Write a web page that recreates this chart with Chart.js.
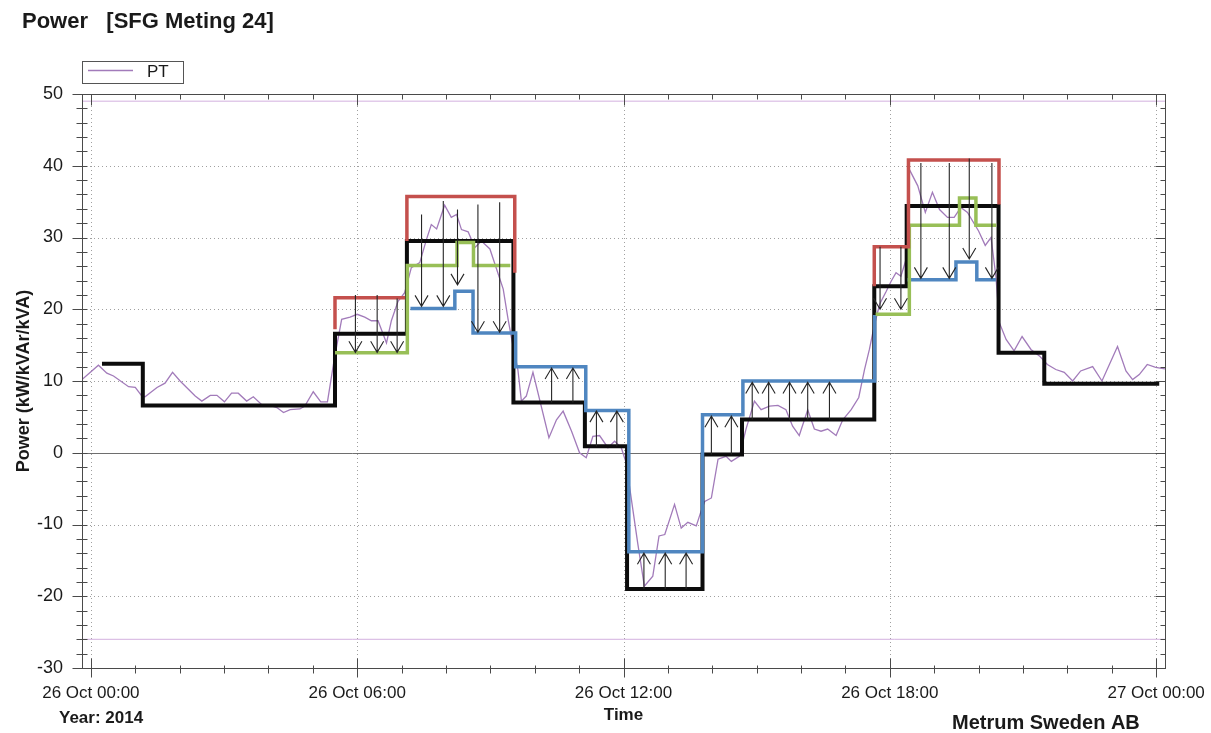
<!DOCTYPE html>
<html>
<head>
<meta charset="utf-8">
<title>Power [SFG Meting 24]</title>
<script src="https://cdn.jsdelivr.net/npm/chart.js@4.4.1/dist/chart.umd.min.js"></script>
<style>
  body { margin: 0; background: #fff; }
  #powerChart { display: block; }
</style>
</head>
<body>
<canvas id="powerChart" width="1211" height="733"></canvas>
<script>
// all x values are hours since 26 Oct 2014 00:00

// PT measurement (kW)
const ptHours = [
  -0.2, 0.17, 0.36, 0.51, 0.85, 1.0, 1.15, 1.22, 1.49, 1.67, 1.84, 2.01, 2.35, 2.5, 2.69, 2.84,
  3.01, 3.17, 3.32, 3.51, 3.66, 3.85, 4.04, 4.19, 4.34, 4.49, 4.71, 4.82, 5.01, 5.18, 5.33, 5.48,
  5.65, 5.84, 6.0, 6.17, 6.32, 6.47, 6.66, 6.77, 6.92, 7.07, 7.22, 7.41, 7.56, 7.67, 7.79, 7.97,
  8.12, 8.24, 8.35, 8.5, 8.65, 8.8, 8.99, 9.14, 9.29, 9.4, 9.51, 9.62, 9.7, 9.81, 9.96,
  10.32, 10.49, 10.64, 10.83, 11.01, 11.16, 11.31, 11.46, 11.65, 11.8, 11.95, 12.06, 12.21, 12.32,
  12.47, 12.66, 12.8, 12.93, 13.15, 13.3, 13.45, 13.64, 13.75, 13.83, 13.98, 14.13, 14.31, 14.43, 14.61,
  14.76, 14.95, 15.1, 15.29, 15.48, 15.66, 15.81, 15.96, 16.15, 16.3, 16.45, 16.6, 16.79, 16.94,
  17.13, 17.3, 17.43, 17.54, 17.65, 17.77, 17.92, 18.03, 18.14, 18.25, 18.37,
  18.44, 18.63, 18.8, 18.96, 19.12, 19.3, 19.45, 19.6, 19.75, 20.0, 20.15, 20.28, 20.39, 20.47,
  20.62, 20.8, 20.98, 21.18, 21.37, 21.55, 21.74, 21.93, 22.12, 22.3, 22.57, 22.78, 23.13, 23.32,
  23.47, 23.62, 23.8, 23.99, 24.2
];
const ptValues = [
  10.2, 12.2, 11.1, 10.7, 9.2, 9.1, 7.9, 7.8, 9.1, 9.7, 11.2, 10.0, 7.9, 7.2, 8.0, 8.0,
  7.1, 8.3, 8.3, 7.2, 7.8, 6.7, 6.6, 6.3, 5.6, 6.0, 6.1, 6.5, 8.5, 7.1, 7.1, 12.9,
  18.6, 18.9, 19.3, 18.9, 18.4, 18.4, 15.3, 18.4, 21.1, 22.3, 25.8, 26.5, 29.7, 31.8, 31.2, 34.5,
  32.8, 33.2, 31.1, 30.8, 28.6, 29.5, 28.4, 25.6, 22.8, 18.6, 14.9, 11.6, 7.2, 7.9, 11.2,
  2.1, 4.6, 5.8, 3.0, 0.0, -0.7, 2.3, 2.4, 0.7, 1.6, 0.7, -1.4, -7.9, -12.6,
  -18.6, -17.2, -11.6, -11.4, -7.2, -10.5, -9.7, -10.2, -8.1, -6.8, -6.3, -0.9, -0.5, -1.2, -0.5,
  3.3, 7.2, 6.0, 6.5, 6.6, 6.0, 3.7, 2.4, 6.0, 3.3, 3.0, 3.3, 2.4, 4.6,
  6.0, 7.7, 11.6, 14.4, 17.7, 20.7, 22.5, 23.9, 25.1, 24.6, 27.0,
  39.5, 37.2, 33.5, 36.3, 33.9, 32.8, 32.8, 34.2, 33.5, 30.9, 28.9, 30.0, 24.6, 18.1,
  15.8, 14.2, 16.2, 14.4, 13.5, 12.3, 11.6, 11.2, 10.0, 11.4, 12.0, 10.0, 14.8, 11.4,
  10.2, 10.9, 12.3, 11.9, 11.7
];

// step levels: each point = hour where the level changes, new level (null = break)
const blackHours = [0.25, 1.17, 5.5, 7.12, 9.52, 11.13, 12.08, 13.78, 14.67, 17.65, 18.38, 20.45, 21.48, 24.07];
const blackLevels = [12.4, 6.6, 16.6, 29.5, 7.0, 0.9, -19.0, -0.25, 4.65, 23.2, 34.4, 13.95, 9.6, 9.6];

const redHours = [5.5, 5.5, 7.08, null, 7.12, 7.12, 9.55, null, 17.65, 17.65, 18.42, 20.46];
const redLevels = [17.2, 21.6, 21.6, null, 29.5, 35.7, 25.1, null, 23.2, 28.7, 40.8, 34.6];

const greenHours = [5.5, 7.13, 8.25, 8.62, 9.45, null, 17.68, 18.44, 19.57, 19.94, 20.4];
const greenLevels = [13.95, 26.1, 29.3, 26.1, 26.1, null, 19.3, 31.7, 35.5, 31.7, 31.7];

const blueHours = [7.2, 8.2, 8.61, 9.57, 11.15, 12.12, 13.78, 14.69, 17.66, null, 18.4, 19.49, 19.96, 20.39];
const blueLevels = [20.1, 22.5, 16.7, 12.0, 5.9, -13.8, 5.3, 10.0, 19.2, null, 24.1, 26.6, 24.1, 24.1];

// annotation arrows: hour, start level, tip level
const arrowHours = [5.96, 6.45, 6.9, 7.45, 7.94, 8.26, 8.72, 9.21, 10.38, 10.86, 11.39, 11.85,
  12.46, 12.94, 13.41, 13.98, 14.43, 14.9, 15.27, 15.74, 16.15, 16.64, 17.78, 18.25, 18.7, 19.34, 19.79, 20.3];
const arrowFrom = [22.0, 22.0, 21.5, 33.2, 35.1, 33.9, 34.6, 34.9, 7.0, 7.0, 0.9, 0.9,
  -19.0, -19.0, -19.0, -0.25, -0.25, 4.65, 4.65, 4.65, 4.65, 4.65, 28.7, 28.7, 40.4, 40.4, 41.0, 40.4];
const arrowTo = [14.0, 14.0, 14.0, 20.4, 20.4, 23.4, 16.8, 16.8, 11.8, 11.8, 5.8, 5.8,
  -14.0, -14.0, -14.0, 5.1, 5.1, 9.8, 9.8, 9.8, 9.8, 9.8, 20.0, 20.0, 24.3, 24.3, 27.0, 24.3];

// max / min reference lines
const limitHigh = 49;
const limitLow = -26;

// axes
const xMin = -0.2, xMax = 24.2;
const xTickHours = [0, 6, 12, 18, 24];
const xTickLabels = ['26 Oct 00:00', '26 Oct 06:00', '26 Oct 12:00', '26 Oct 18:00', '27 Oct 00:00'];
const yMin = -30, yMax = 50;
const yTicks = [-30, -20, -10, 0, 10, 20, 30, 40, 50];

const FONT = "'Liberation Sans', Arial, sans-serif";
const TXT = '#1a1a1a';

function toPoints(xs, ys) {
  return xs.map((h, i) => ({ x: h, y: ys[i] }));
}

function line(ctx, x1, y1, x2, y2) {
  ctx.beginPath();
  ctx.moveTo(x1, y1);
  ctx.lineTo(x2, y2);
  ctx.stroke();
}

// grid, frame, tick marks, arrows and the loose texts
const decorations = {
  id: 'decorations',
  beforeDatasetsDraw(chart) {
    const { ctx, chartArea: a, scales: { x, y } } = chart;
    ctx.save();
    ctx.lineWidth = 1;
    ctx.strokeStyle = '#a0a0a0';
    ctx.setLineDash([1, 3]);
    xTickHours.forEach(h => {
      const px = Math.round(x.getPixelForValue(h)) + 0.5;
      line(ctx, px, a.top, px, a.bottom);
    });
    yTicks.forEach(v => {
      if (v === 0 || v === yMin || v === yMax) return;
      const py = Math.round(y.getPixelForValue(v)) + 0.5;
      line(ctx, a.left, py, a.right, py);
    });
    ctx.setLineDash([]);
    ctx.strokeStyle = '#6e6e6e';
    const py0 = Math.round(y.getPixelForValue(0)) + 0.5;
    line(ctx, a.left, py0, a.right, py0);
    ctx.restore();
  },
  afterDatasetsDraw(chart) {
    const { ctx, chartArea: a, scales: { x, y } } = chart;
    ctx.save();

    // arrows
    ctx.strokeStyle = '#262626';
    ctx.lineWidth = 1.1;
    arrowHours.forEach((h, i) => {
      const px = x.getPixelForValue(h);
      const y0 = y.getPixelForValue(arrowFrom[i]);
      const y1 = y.getPixelForValue(arrowTo[i]);
      const dir = y1 > y0 ? 1 : -1;
      ctx.beginPath();
      ctx.moveTo(px, y0);
      ctx.lineTo(px, y1);
      ctx.moveTo(px - 6.5, y1 - dir * 11);
      ctx.lineTo(px, y1);
      ctx.lineTo(px + 6.5, y1 - dir * 11);
      ctx.stroke();
    });

    // frame
    ctx.strokeStyle = '#4a4a4a';
    ctx.lineWidth = 1;
    const L = Math.round(a.left) + 0.5, R = Math.round(a.right) + 0.5;
    const T = Math.round(a.top) + 0.5, B = Math.round(a.bottom) + 0.5;
    ctx.strokeRect(L, T, R - L, B - T);

    // tick marks, hourly on x and every 2 kW on y
    for (let h = 0; h <= 24; h++) {
      const px = Math.round(x.getPixelForValue(h)) + 0.5;
      const major = h % 6 === 0;
      line(ctx, px, B - (major ? 10 : 3), px, B + (major ? 9 : 5));
      line(ctx, px, T, px, T + (major ? 11 : 5));
    }
    for (let v = yMin; v <= yMax; v += 2) {
      const py = Math.round(y.getPixelForValue(v)) + 0.5;
      const major = v % 10 === 0;
      line(ctx, L - (major ? 10 : 6), py, L + 5, py);
      line(ctx, R - (major ? 10 : 5), py, R, py);
    }
    ctx.restore();
  },
  afterDraw(chart) {
    const { ctx } = chart;
    const pt = chart.data.datasets.find(d => d.label === 'PT');
    ctx.save();
    ctx.fillStyle = TXT;
    ctx.textBaseline = 'alphabetic';
    ctx.font = 'bold 22px ' + FONT;
    ctx.fillText('Power   [SFG Meting 24]', 22, 28);

    // legend
    ctx.strokeStyle = '#555';
    ctx.lineWidth = 1;
    ctx.strokeRect(82.5, 61.5, 101, 22);
    ctx.strokeStyle = pt.borderColor;
    ctx.lineWidth = 1.5;
    line(ctx, 88, 70.5, 133, 70.5);
    ctx.font = '17px ' + FONT;
    ctx.fillText('PT', 147, 77);

    ctx.font = 'bold 17px ' + FONT;
    ctx.fillText('Year: 2014', 59, 723);
    ctx.font = 'bold 20px ' + FONT;
    ctx.fillText('Metrum Sweden AB', 952, 729);
    ctx.restore();
  }
};

const stepStyle = (color, width) => ({
  borderColor: color,
  borderWidth: width,
  stepped: true,
  pointRadius: 0,
  spanGaps: false,
  fill: false
});

new Chart(document.getElementById('powerChart'), {
  type: 'line',
  data: {
    datasets: [
      { label: 'red', data: toPoints(redHours, redLevels), ...stepStyle('#c4504d', 3.5) },
      { label: 'green', data: toPoints(greenHours, greenLevels), ...stepStyle('#98bf57', 3.5) },
      { label: 'blue', data: toPoints(blueHours, blueLevels), ...stepStyle('#4f86c0', 3.5) },
      { label: 'black', data: toPoints(blackHours, blackLevels), ...stepStyle('#0c0c0c', 4) },
      {
        label: 'PT',
        data: toPoints(ptHours, ptValues),
        borderColor: '#a27bba',
        borderWidth: 1.3,
        pointRadius: 0,
        tension: 0,
        fill: false
      },
      {
        label: 'max',
        data: toPoints([xMin, xMax], [limitHigh, limitHigh]),
        borderColor: '#d3b0df',
        borderWidth: 1,
        pointRadius: 0
      },
      {
        label: 'min',
        data: toPoints([xMin, xMax], [limitLow, limitLow]),
        borderColor: '#d3b0df',
        borderWidth: 1,
        pointRadius: 0
      }
    ]
  },
  options: {
    responsive: false,
    animation: false,
    layout: { padding: { top: 94, right: 46, left: 0, bottom: 0 } },
    scales: {
      x: {
        type: 'linear',
        min: xMin,
        max: xMax,
        afterBuildTicks: (s) => { s.ticks = xTickHours.map(v => ({ value: v })); },
        afterFit: (s) => { s.height = 65; s.paddingLeft = 0; s.paddingRight = 0; },
        ticks: {
          autoSkip: false,
          maxRotation: 0,
          padding: 15,
          color: TXT,
          font: { family: FONT, size: 17 },
          callback: (value, index) => xTickLabels[index]
        },
        grid: { display: false, drawTicks: false },
        border: { display: false },
        title: {
          display: true,
          text: 'Time',
          color: TXT,
          font: { family: FONT, size: 17, weight: 'bold' },
          padding: { top: 0, bottom: 7 }
        }
      },
      y: {
        type: 'linear',
        min: yMin,
        max: yMax,
        afterBuildTicks: (s) => { s.ticks = yTicks.map(v => ({ value: v })); },
        afterFit: (s) => { s.width = 82; },
        ticks: {
          padding: 19,
          color: TXT,
          font: { family: FONT, size: 18 }
        },
        grid: { display: false, drawTicks: false },
        border: { display: false },
        title: {
          display: true,
          text: 'Power (kW/kVAr/kVA)',
          color: TXT,
          font: { family: FONT, size: 18, weight: 'bold' },
          padding: { top: 13, bottom: 0 }
        }
      }
    },
    plugins: {
      legend: { display: false },
      title: { display: false },
      tooltip: { enabled: false }
    }
  },
  plugins: [decorations]
});
</script>
</body>
</html>
